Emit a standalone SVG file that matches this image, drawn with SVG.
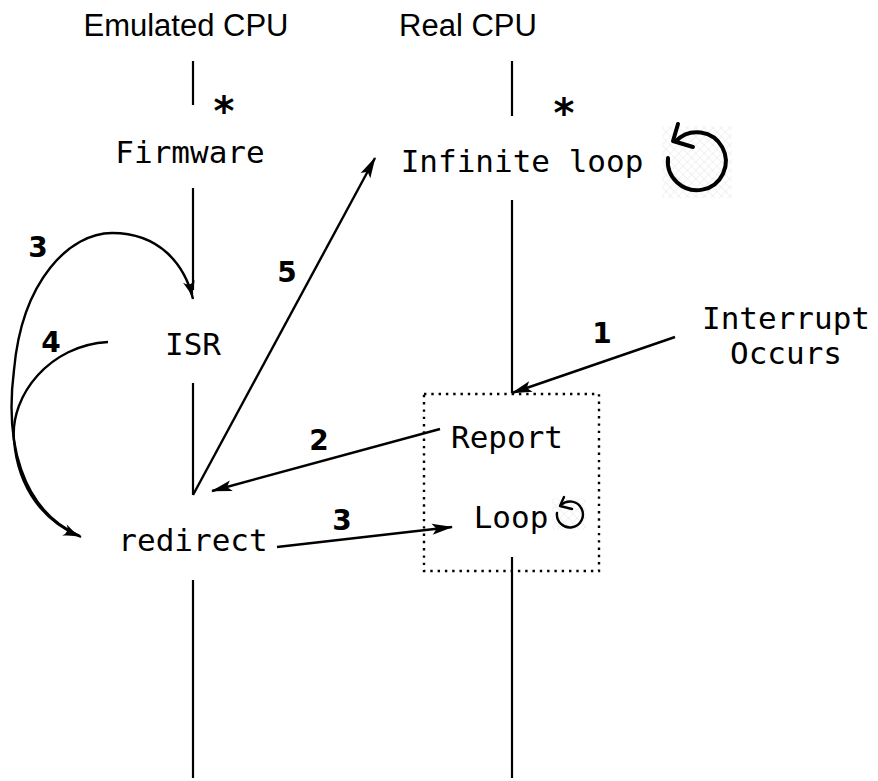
<svg xmlns="http://www.w3.org/2000/svg" width="878" height="781" viewBox="0 0 878 781">
  <style>
    .title { font-family: "Liberation Sans", Arial, sans-serif; font-size: 31px; fill: #000; text-anchor: middle; }
    .mono { font-family: "DejaVu Sans Mono", "Liberation Mono", monospace; font-size: 31px; fill: #000; text-anchor: middle; }
    .star { font-family: "DejaVu Sans", sans-serif; font-size: 40px; font-weight: bold; fill: #000; text-anchor: middle; }
    .num { font-family: "DejaVu Sans", sans-serif; font-size: 28px; font-weight: bold; fill: #000; text-anchor: middle; }
    .life { stroke: #000; stroke-width: 2.2; fill: none; }
    .edge { stroke: #000; stroke-width: 2.4; fill: none; }
    .icon { stroke: #000; fill: none; stroke-linecap: round; stroke-linejoin: round; }
  </style>
  <defs>
    <marker id="tri" markerUnits="userSpaceOnUse" markerWidth="22" markerHeight="14" refX="20" refY="7" orient="auto" overflow="visible">
      <path d="M0,1.5 L21,7 L0,12.5 L4.5,7 z" fill="#000"/>
    </marker>
    <marker id="vee" markerUnits="userSpaceOnUse" markerWidth="20" markerHeight="14" refX="18" refY="7" orient="auto" overflow="visible">
      <path d="M0,1 Q9,5.5 18.5,7 Q9,8.5 0,13 Q6,7 0,1 z" fill="#000"/>
    </marker>
    <pattern id="hatch" width="6" height="6" patternUnits="userSpaceOnUse" patternTransform="rotate(45)">
      <path d="M0,0 L0,6 M0,0 L6,0" stroke="#e6e6e6" stroke-width="1"/>
    </pattern>
  </defs>

  <!-- column headings -->
  <g id="heading-emulated"><text class="title" x="186" y="36">Emulated CPU</text></g>
  <g id="heading-real"><text class="title" x="468" y="36">Real CPU</text></g>

  <!-- lifelines -->
  <g id="lifelines">
    <line class="life" x1="193" y1="61" x2="193" y2="105"/>
    <line class="life" x1="193" y1="188" x2="193" y2="290"/>
    <line class="life" x1="193" y1="383" x2="193" y2="495"/>
    <line class="life" x1="193" y1="580" x2="193" y2="778"/>
    <line class="life" x1="512" y1="61" x2="512" y2="116"/>
    <line class="life" x1="512" y1="200" x2="512" y2="393"/>
    <line class="life" x1="512" y1="557" x2="512" y2="778"/>
  </g>

  <!-- start markers -->
  <g id="star-emulated"><text class="star" x="224" y="125">*</text></g>
  <g id="star-real"><text class="star" x="564" y="127">*</text></g>

  <!-- nodes -->
  <g id="firmware"><text class="mono" x="190" y="163">Firmware</text></g>
  <g id="infinite-loop">
    <text class="mono" x="522" y="172">Infinite loop</text>
    <rect x="662" y="126" width="70" height="72" fill="url(#hatch)"/>
    <path class="icon" stroke-width="4" d="M668,158 A29,29 0 1 0 676,141"/>
    <polyline class="icon" stroke-width="4" points="678,124 673,141 693,147"/>
  </g>
  <g id="isr"><text class="mono" x="193" y="355">ISR</text></g>
  <g id="interrupt">
    <text class="mono" x="786" y="329">Interrupt</text>
    <text class="mono" x="786" y="364">Occurs</text>
  </g>
  <g id="handler-box">
    <rect x="424" y="394" width="175" height="177" fill="none" stroke="#000" stroke-width="2.4" stroke-dasharray="2.4 4.9"/>
  </g>
  <g id="report"><text class="mono" x="507" y="448">Report</text></g>
  <g id="loop">
    <text class="mono" x="511" y="528">Loop</text>
    <rect x="552" y="498" width="34" height="32" fill="url(#hatch)"/>
    <path class="icon" stroke-width="2.4" d="M557,513 A13,13 0 1 0 561,505"/>
    <polyline class="icon" stroke-width="2.4" points="564,497 560,506 572,509"/>
  </g>
  <g id="redirect"><text class="mono" x="193" y="551">redirect</text></g>

  <!-- connectors -->
  <g id="connectors">
    <line class="edge" x1="675" y1="337" x2="512" y2="393" marker-end="url(#tri)"/>
    <line class="edge" x1="440" y1="429" x2="212" y2="491" marker-end="url(#tri)"/>
    <line class="edge" x1="277" y1="547" x2="452" y2="527" marker-end="url(#tri)"/>
    <line class="edge" x1="193" y1="495" x2="375" y2="158" marker-end="url(#tri)"/>
    <path class="edge" d="M80,536 C20,510 5,440 14,370 C22,280 70,233 112,233 C160,233 185,265 193,299" marker-end="url(#vee)"/>
    <path class="edge" d="M108,342 C50,345 10,395 14,440 C18,490 45,522 81,537" marker-end="url(#vee)"/>
  </g>

  <!-- step numbers -->
  <g id="labels">
    <text class="num" x="38" y="257">3</text>
    <text class="num" x="51" y="352">4</text>
    <text class="num" x="287" y="282">5</text>
    <text class="num" x="319" y="450">2</text>
    <text class="num" x="602" y="343">1</text>
    <text class="num" x="342" y="530">3</text>
  </g>
</svg>
